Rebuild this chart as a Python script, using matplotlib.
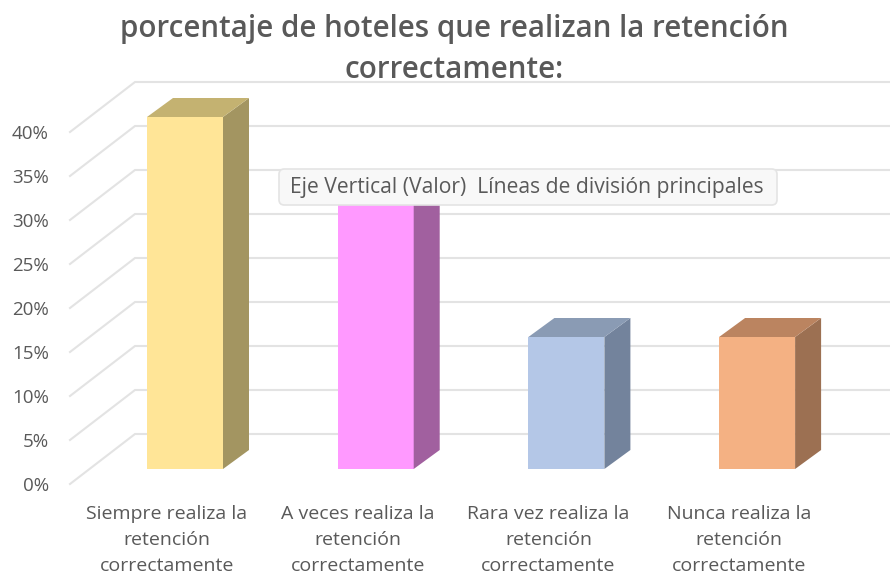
import matplotlib
matplotlib.use("Agg")
import matplotlib.pyplot as plt
from matplotlib.patches import FancyBboxPatch, Polygon

categories = ["Siempre realiza la\nretención\ncorrectamente",
              "A veces realiza la\nretención\ncorrectamente",
              "Rara vez realiza la\nretención\ncorrectamente",
              "Nunca realiza la\nretención\ncorrectamente"]
values = [40, 30, 15, 15]
grid_values = [0, 5, 10, 15, 20, 25, 30, 35, 40]
tick_labels = ["0%", "5%", "10%", "15%", "20%", "25%", "30%", "35%", "40%"]
front_colors = ["#FFE597", "#FF99FF", "#B4C7E7", "#F4B183"]
side_colors = ["#A39561", "#A1609F", "#73839C", "#9C7052"]
top_colors = ["#C4B271", "#B86FB6", "#8A9BB4", "#BB8460"]

W, H = 890, 577
PX = 190.7   # pixels per category
PY = 8.8     # pixels per percent

fig = plt.figure(figsize=(W / 100, H / 100), dpi=100)
ax = fig.add_axes([0, 0, 1, 1])
ax.set_xlim(-185 / PX, (W - 185) / PX)
ax.set_ylim((469 - H) / PY, 469 / PY)
ax.axis("off")

plt.rcParams["font.family"] = ["Open Sans", "DejaVu Sans"]
gray = "#595959"

# grid, with the slanted bit on the left wall
x_front, x_back = (70 - 185) / PX, (135 - 185) / PX
for v in grid_values:
    ax.plot([x_front, x_back, (W - 185) / PX], [v - 15 / PY, v + 35 / PY, v + 35 / PY],
            color="#e3e3e3", lw=1.5, zorder=1, solid_joinstyle="miter")

# bars
width = 76 / PX
dx, dy = 26 / PX, 19 / PY
xs = list(range(len(values)))
ax.bar(xs, values, width=width, color=front_colors, zorder=3)
for x, v, sc, tc in zip(xs, values, side_colors, top_colors):
    r = x + width / 2
    l = x - width / 2
    ax.add_patch(Polygon([(r, 0), (r + dx, dy), (r + dx, v + dy), (r, v)], color=sc, lw=0, zorder=3))
    ax.add_patch(Polygon([(l, v), (l + dx, v + dy), (r + dx, v + dy), (r, v)], color=tc, lw=0, zorder=3))

# axis text
for v, lab in zip(grid_values, tick_labels):
    ax.text(49 / PX - 185 / PX, v - 17 / PY, lab, ha="right", va="center", fontsize=13.5, color=gray)
for x, lab in zip(xs, categories):
    ax.text(x - 18 / PX, -71 / PY, lab, ha="center", va="center", fontsize=14,
            color=gray, linespacing=1.6)

fig.text(454 / W, 1 - 29 / H, "porcentaje de hoteles que realizan la retención", ha="center", va="center",
         fontsize=21.3, fontweight="semibold", color=gray)
fig.text(454 / W, 1 - 70 / H, "correctamente:", ha="center", va="center",
         fontsize=21.3, fontweight="semibold", color=gray)

# tooltip left over from the screenshot
box = FancyBboxPatch((279 / W, 1 - 205 / H), 498 / W, 36 / H, transform=fig.transFigure,
                     boxstyle="round,pad=0,rounding_size=0.006", mutation_aspect=W / H,
                     fc="#f8f8f8", ec="#e4e4e4", lw=1.2, zorder=5)
box.set_clip_on(False)
ax.add_patch(box)
fig.text(290 / W, 1 - 188 / H, "Eje Vertical (Valor)  Líneas de división principales", ha="left", va="center",
         fontsize=15.2, color=gray, zorder=6)

fig.savefig("out.png", dpi=100)
